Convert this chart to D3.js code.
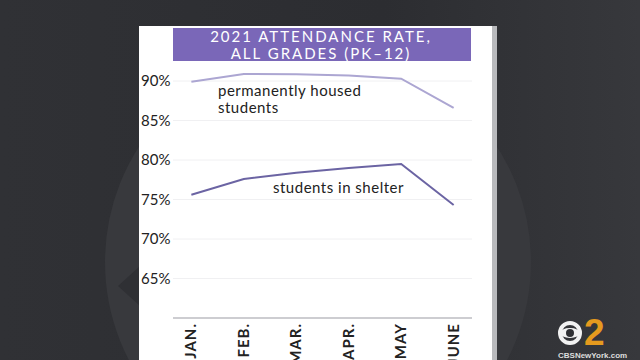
<!DOCTYPE html>
<html>
<head>
<meta charset="utf-8">
<script src="https://cdn.jsdelivr.net/npm/d3@7"></script>
<style>
  html, body { margin: 0; padding: 0; background: #2e2f33; }
  svg { display: block; }
</style>
</head>
<body>
<div id="bigdiv"></div>
<script>
// chart data
var months = ['JAN.', 'FEB.', 'MAR.', 'APR.', 'MAY', 'JUNE']
var housed = [89.9, 90.9, 90.85, 90.7, 90.3, 86.6]
var shelter = [75.6, 77.6, 78.4, 79.0, 79.5, 74.3]
var yticks = [65, 70, 75, 80, 85, 90]
var titleLines = ['2021 ATTENDANCE RATE,', 'ALL GRADES (PK\u201312)']

let W = 640, H = 360

let svg = d3.select('div#bigdiv').append('svg')
    .attr('width', W).attr('height', H)

// dark studio backdrop
let defs = svg.append('defs')
let bgGrad = defs.append('linearGradient').attr('id', 'bggrad')
    .attr('x1', 0).attr('x2', 1).attr('y1', 0).attr('y2', 0)
bgGrad.append('stop').attr('offset', '0%').attr('stop-color', '#303135')
bgGrad.append('stop').attr('offset', '60%').attr('stop-color', '#2c2d31')
bgGrad.append('stop').attr('offset', '100%').attr('stop-color', '#37383c')

svg.append('rect').attr('width', W).attr('height', H).attr('fill', 'url(#bggrad)')

// big faint ring behind the panel
svg.append('circle')
    .attr('cx', 318).attr('cy', 262).attr('r', 196)
    .attr('fill', 'none').attr('stroke', '#38393d').attr('stroke-width', 34)
svg.append('path')
    .attr('d', 'M118,286 L140,266 L140,306 Z')
    .attr('fill', '#2f3034')

// white panel
svg.append('rect').attr('x', 492).attr('y', 26).attr('width', 5).attr('height', H - 26)
    .attr('fill', '#b9babd')
svg.append('rect').attr('x', 139).attr('y', 26).attr('width', 353).attr('height', H - 26)
    .attr('fill', '#ffffff')

let x = d3.scalePoint().domain(months).range([173, 472]).padding(0.35)
let y = d3.scaleLinear().domain([60, 90]).range([318, 81])

let g = svg.append('g').attr('id', 'chartg')

// faint gridlines
g.selectAll('line.grid')
    .data(yticks)
    .enter()
    .append('line')
    .attr('class', 'grid')
    .attr('x1', 173).attr('x2', 472)
    .attr('y1', d => y(d)).attr('y2', d => y(d))
    .attr('stroke', '#f0f0f2').attr('stroke-width', 1)

// y labels
g.selectAll('text.ylab')
    .data(yticks)
    .enter()
    .append('text')
    .attr('class', 'ylab')
    .attr('x', 141)
    .attr('y', d => y(d) + 5)
    .attr('font-family', 'Lato, sans-serif')
    .attr('font-size', 15)
    .attr('fill', '#222')
    .text(d => d + '%')

// baseline
g.append('line')
    .attr('x1', 173).attr('x2', 472)
    .attr('y1', y(60)).attr('y2', y(60))
    .attr('stroke', '#bdbdc2').attr('stroke-width', 1.5)

// month labels, rotated
g.selectAll('text.xlab')
    .data(months)
    .enter()
    .append('text')
    .attr('class', 'xlab')
    .attr('transform', d => 'translate(' + (x(d) + 5) + ',' + (y(60) + 5) + ') rotate(-90)')
    .attr('text-anchor', 'end')
    .attr('font-family', 'Lato, sans-serif')
    .attr('font-weight', 'bold')
    .attr('font-size', 15)
    .attr('letter-spacing', 1)
    .attr('fill', '#222')
    .text(d => d)

let line = d3.line()
    .x((d, i) => x(months[i]))
    .y(d => y(d))

g.append('path')
    .datum(housed)
    .attr('d', line)
    .attr('fill', 'none')
    .attr('stroke', '#aca6d2')
    .attr('stroke-width', 2)

g.append('path')
    .datum(shelter)
    .attr('d', line)
    .attr('fill', 'none')
    .attr('stroke', '#6b64a3')
    .attr('stroke-width', 2)

// series labels
let lab = g.append('text')
    .attr('font-family', 'Lato, sans-serif')
    .attr('font-size', 15)
    .attr('letter-spacing', 0.5)
    .attr('fill', '#222')
lab.append('tspan').attr('x', 218).attr('y', 96).text('permanently housed')
lab.append('tspan').attr('x', 218).attr('y', 113).text('students')

g.append('text')
    .attr('x', 273).attr('y', 193)
    .attr('font-family', 'Lato, sans-serif')
    .attr('font-size', 15)
    .attr('letter-spacing', 0.5)
    .attr('fill', '#222')
    .text('students in shelter')

// title bar
svg.append('rect')
    .attr('x', 173).attr('y', 28).attr('width', 298).attr('height', 33)
    .attr('fill', '#7a67b8')
svg.selectAll('text.title')
    .data(titleLines)
    .enter()
    .append('text')
    .attr('class', 'title')
    .attr('x', 321)
    .attr('y', (d, i) => 42 + i * 17)
    .attr('text-anchor', 'middle')
    .attr('font-family', 'Lato, sans-serif')
    .attr('font-size', 15)
    .attr('letter-spacing', 2)
    .attr('fill', '#ffffff')
    .text(d => d)

// station bug
let bug = svg.append('g').attr('id', 'bug')
bug.append('circle').attr('cx', 570).attr('cy', 333).attr('r', 10)
    .attr('fill', 'none').attr('stroke', '#f2f2f2').attr('stroke-width', 4)
bug.append('ellipse').attr('cx', 570).attr('cy', 333).attr('rx', 10).attr('ry', 5)
    .attr('fill', '#f2f2f2')
bug.append('circle').attr('cx', 570).attr('cy', 333).attr('r', 4)
    .attr('fill', '#2e2f33')
bug.append('text').attr('x', 584).attr('y', 345)
    .attr('font-family', 'Liberation Sans, Arial, sans-serif')
    .attr('font-weight', 'bold').attr('font-size', 37)
    .attr('fill', '#e59a1e')
    .text('2')
bug.append('text').attr('x', 558).attr('y', 358)
    .attr('font-family', 'Liberation Sans, Arial, sans-serif')
    .attr('font-weight', 'bold').attr('font-size', 8)
    .attr('fill', '#dddddd')
    .text('CBSNewYork.com')
</script>
</body>
</html>
